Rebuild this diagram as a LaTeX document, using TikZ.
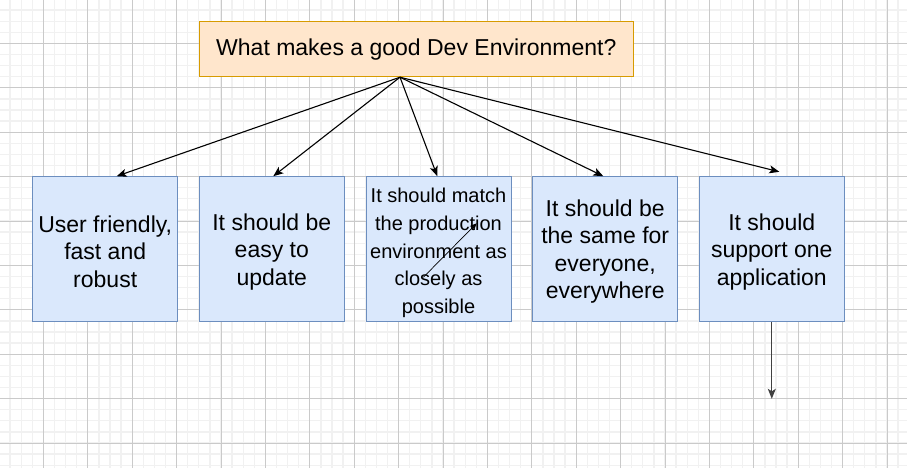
\documentclass[tikz,border=0pt]{standalone}
\usepackage{fontspec}
\setmainfont{Liberation Sans}
\usetikzlibrary{arrows.meta,positioning,calc}
\definecolor{gridlight}{HTML}{F1F1F1}
\definecolor{griddark}{HTML}{CACACA}
\definecolor{peach}{HTML}{FFE6CC}
\definecolor{amber}{HTML}{D79B00}
\definecolor{paleblue}{HTML}{DAE8FC}
\definecolor{steel}{HTML}{6C8EBF}

\begin{document}
\begin{tikzpicture}[x=1pt, y=-1pt,
  question/.style={draw=amber, fill=peach, line width=1pt, minimum width=434pt,
    minimum height=55pt, inner sep=0pt, font=\fontsize{23}{27.5}\selectfont},
  idea/.style={draw=steel, fill=paleblue, line width=1pt, minimum width=145pt,
    minimum height=145pt, inner sep=0pt},
  words/.style={align=center, yshift=-2.5pt, font=\fontsize{23}{27.5}\selectfont},
  link/.style={line width=1.1pt, -{Stealth[length=10pt, width=8pt, inset=2.5pt]}}]
  \useasboundingbox (0,0) rectangle (911,468);
  \fill[white] (0,0) rectangle (911,468);
  % grid
  \foreach \i in {1,...,81}
    \draw[gridlight, line width=1.3pt] ({-1+11.1*\i},0) -- ({-1+11.1*\i},468);
  \foreach \j in {1,...,42}
    \draw[gridlight, line width=1.3pt] (0,{-1+11.1*\j}) -- (907,{-1+11.1*\j});
  \foreach \i in {1,...,20}
    \draw[griddark, line width=0.9pt] ({-1+44.4*\i},0) -- ({-1+44.4*\i},468);
  \foreach \j in {1,...,10}
    \draw[griddark, line width=0.9pt] (0,{-1+44.4*\j}) -- (907,{-1+44.4*\j});

  \node[question] (title) at (416.3,49.2) {What makes a good Dev Environment?};
  \node[idea, label={[words]center:{User friendly,\\fast and\\robust}}] (friendly) at (105.2,249.2) {};
  \node[idea, label={[words]center:{It should be\\easy to\\update}}] (update) at (271.8,249.2) {};
  \node[idea, label={[words, yshift=-1.2pt, font=\fontsize{20}{27.6}\selectfont]center:{It should match\\the production\\environment as\\closely as\\possible}}] (prod) at (438.5,249.2) {};
  \node[idea, label={[words]center:{It should be\\the same for\\everyone,\\everywhere}}] (same) at (605.2,249.2) {};
  \node[idea, label={[words]center:{It should\\support one\\application}}] (oneapp) at (771.8,249.2) {};

  \coordinate (src) at ([xshift=-16.3pt]title.south);
  \coordinate (appdown) at ([yshift=-76.6pt]oneapp.south);
  \coordinate (innera) at ([shift={(-15.2,28.1)}]prod.center);
  \coordinate (innerb) at ([shift={(38.2,-25.9)}]prod.center);

  \draw[link] (src) -- ([xshift=11.5pt]friendly.north);
  \draw[link] (src) -- ([xshift=1.5pt]update.north);
  \draw[link] (src) -- ([xshift=-1.2pt]prod.north);
  \draw[link] (src) -- ([xshift=-1.9pt]same.north);
  \draw[link] (src) -- ([shift={(7.5,-4.4)}]oneapp.north);
  \draw[line width=0.7pt, -{Stealth[length=7pt, width=6pt, inset=1.8pt]}] (innera) -- (innerb);
  \draw[link, black!75] (oneapp.south) -- (appdown);
\end{tikzpicture}
\end{document}
